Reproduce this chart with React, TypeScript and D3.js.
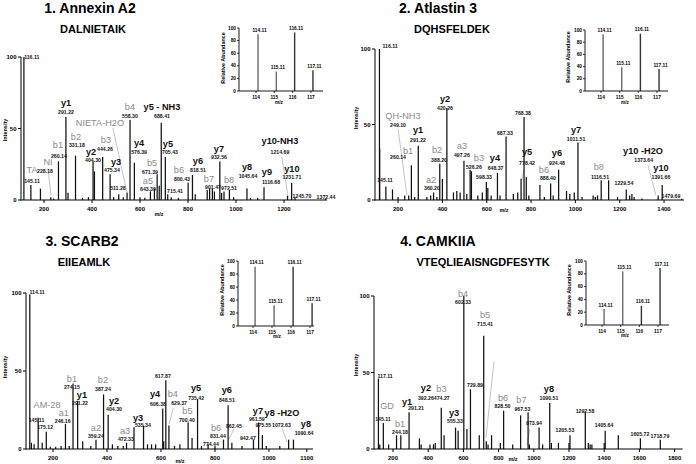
import React from 'react';
import * as d3 from 'd3';

const FONT = '"Liberation Sans", Arial, Helvetica, sans-serif';
const GRAY = '#8a8a8a';

type Kind = 'y' | 'b' | 'm';
type Txt = [string, Kind, number, number];
type Peak = [number, number];
type Leader = [number, number, number, number];

// ---------- shared ----------
const REPORTER_MZ = [114.11, 115.11, 116.11, 117.11];
const REPORTER_LABELS = ['114.11', '115.11', '116.11', '117.11'];
const MAIN_Y_TICKS = [0, 50, 100];
const INSET_Y_TICKS = [0, 20, 40, 60, 80, 100];
const INSET_X_TICKS = [114, 115, 116, 117];

// ---------- panel 1 ----------
const P1_TITLE = '1. Annexin A2';
const P1_PEPTIDE = 'DALNIETAIK';
const P1_X_TICKS = [200, 400, 600, 800, 1000, 1200];
const P1_X_TICK_LABELS = ['200', '400', '600', '800', '1000', '1200'];
const P1_REPORTER = [90, 31, 93, 33];
const P1_PEAKS: Peak[] = [
  [116.11, 100], [145.11, 10.5], [185, 8], [228.18, 2], [240, 1], [260.14, 27], [291.22, 58], [300, 5],
  [331.18, 31], [360, 1.5], [385, 2], [404.3, 27], [410, 20], [444.26, 30], [475.34, 18], [490, 2],
  [511.28, 4], [530, 2], [546, 5], [558.3, 56], [576.39, 26], [600, 2], [620, 1.5], [643.39, 6],
  [660, 8], [671.39, 18], [680, 10], [688.41, 54], [705.43, 30], [715.41, 4], [730, 2], [760, 1.5],
  [800.43, 12], [818.51, 17.5], [830, 4], [880, 7], [890, 8], [901.47, 8], [910, 6], [932.56, 27],
  [940, 5], [950, 6], [972.51, 7], [990, 2], [1045.64, 8], [1060, 1.5], [1090, 1.5], [1116.68, 9],
  [1214.69, 3], [1231.71, 12], [1245.7, 2], [1372.44, 0.8],
];
const P1_TEXTS: Txt[] = [
  ['116.11', 'm', 149, 100],
  ['y1', 'y', 291.5, 67], ['291.22', 'm', 291.5, 61.5],
  ['b4', 'b', 558, 64.3], ['558.30', 'm', 558, 58.7],
  ['NIETA-H2O', 'b', 433, 53],
  ['y5 - NH3', 'y', 691.5, 64.3], ['688.41', 'm', 691.5, 58.7],
  ['b2', 'b', 333, 43.4], ['331.18', 'm', 337, 38.5],
  ['b1', 'b', 258, 37.8], ['260.14', 'm', 262, 30.8],
  ['b3', 'b', 458, 41.3], ['444.26', 'm', 454, 35.7],
  ['y4', 'y', 596, 39.2], ['576.39', 'm', 596, 33.6],
  ['y2', 'y', 396, 32.9], ['404.30', 'm', 404, 28],
  ['y3', 'y', 500, 25.9], ['475.34', 'm', 483, 21],
  ['NI', 'b', 216.5, 25.9],
  ['TA', 'b', 150, 20.3], ['228.18', 'm', 204, 20.3],
  ['145.11', 'm', 150, 13.3],
  ['a5', 'b', 633, 12.6], ['643.39', 'm', 633, 7.7],
  ['b5', 'b', 650, 25.2], ['671.39', 'm', 641.5, 19.6],
  ['511.28', 'm', 508, 8.4],
  ['y5', 'y', 716.5, 38.5], ['705.43', 'm', 725, 33.6],
  ['b6', 'b', 762, 20.3], ['800.43', 'm', 775, 14.7],
  ['y6', 'y', 841.5, 26.6], ['818.51', 'm', 841.5, 21],
  ['715.41', 'm', 746, 6.3],
  ['b7', 'b', 887, 14], ['901.47', 'm', 904, 9.1],
  ['y7', 'y', 929, 35], ['932.56', 'm', 929, 30],
  ['b8', 'b', 971, 13.3], ['972.51', 'm', 971, 8.4],
  ['y8', 'y', 1046, 22.4], ['1045.64', 'm', 1050, 16.8],
  ['y9', 'y', 1129, 18.9], ['1116.68', 'm', 1146, 12.6],
  ['y10-NH3', 'y', 1183, 40.6], ['1214.69', 'm', 1183, 33.6],
  ['y10', 'y', 1233, 21], ['1231.71', 'm', 1233, 16.1],
  ['1245.70', 'm', 1275, 2.8],
  ['1372.44', 'm', 1375, 2.1],
];
const P1_LEADERS: Leader[] = [[487, 50.3, 546, 4.9], [216, 22, 229, 3.5], [1191, 30, 1216, 3.5]];

// ---------- panel 2 ----------
const P2_TITLE = '2. Atlastin 3';
const P2_PEPTIDE = 'DQHSFELDEK';
const P2_X_TICKS = [200, 400, 600, 800, 1000, 1200, 1400];
const P2_X_TICK_LABELS = ['200', '400', '600', '800', '1000', '1200', '1400'];
const P2_REPORTER = [93, 39, 94, 36];
const P2_PEAKS: Peak[] = [
  [116.11, 100], [117.11, 34], [145.11, 9], [175, 7], [200, 2], [230, 3], [248, 3], [260.14, 23],
  [275, 2], [291.22, 36], [330, 2], [347, 3], [360.2, 5], [375, 2], [388.2, 24], [400, 14],
  [420.26, 61], [450, 5], [465, 6], [480, 5], [497.26, 26], [510, 4], [525.26, 20], [531, 19],
  [560, 3], [580, 5], [598.33, 12], [605, 8], [620, 3], [648.37, 18], [660, 3], [687.33, 42],
  [720, 4], [740, 5], [755, 14], [768.38, 55], [778.42, 15], [790, 3], [840, 10], [860, 2],
  [888.4, 11], [900, 3], [924.48, 20], [960, 6], [975, 4], [995, 5], [1011.51, 38], [1030, 2],
  [1080, 3], [1090, 2], [1100, 3], [1116.51, 13], [1150, 13], [1190, 2], [1229.54, 7], [1245, 3],
  [1255, 4], [1265, 2], [1300, 1], [1373.64, 3], [1391.66, 10], [1479.69, 0.8],
];
const P2_TEXTS: Txt[] = [
  ['116.11', 'm', 164, 102],
  ['y2', 'y', 412, 66.2], ['420.26', 'm', 412, 61],
  ['QH-NH3', 'b', 222, 55], ['249.10', 'm', 200, 49.7],
  ['768.38', 'm', 763.6, 57.6],
  ['y1', 'y', 290, 45.7], ['291.22', 'm', 290, 39.7],
  ['b1', 'b', 245, 31.8], ['260.14', 'm', 200, 28.5],
  ['b2', 'b', 376, 32.3], ['388.20', 'm', 385, 26.8],
  ['a3', 'b', 488, 35], ['497.26', 'm', 488, 30.2],
  ['b3', 'b', 565, 27.2], ['526.26', 'm', 542, 21.9],
  ['y4', 'y', 637, 27.2], ['648.37', 'm', 640, 21.2],
  ['598.33', 'm', 588, 15.2],
  ['687.33', 'm', 682, 44.4],
  ['a2', 'b', 348.6, 12.6], ['360.20', 'm', 353, 7.9],
  ['145.11', 'm', 141, 13.2],
  ['y5', 'y', 782, 31], ['778.42', 'm', 782, 24.5],
  ['b6', 'b', 858, 19.2], ['888.40', 'm', 876, 14.6],
  ['y6', 'y', 917, 30.5], ['924.48', 'm', 917, 24.5],
  ['y7', 'y', 1003, 45.7], ['1011.51', 'm', 1003, 40.4],
  ['b8', 'b', 1106, 21.2], ['1116.51', 'm', 1111, 15.2],
  ['1229.54', 'm', 1219, 11.3],
  ['y10 -H2O', 'y', 1305, 31.8], ['1373.64', 'm', 1308, 26.5],
  ['y10', 'y', 1386, 20.5], ['1391.66', 'm', 1386, 15.2],
  ['1479.69', 'm', 1431, 2.6],
];
const P2_LEADERS: Leader[] = [[200, 47, 240, 3.3], [768, 19.9, 759, 13.2], [1327, 23.2, 1363, 3.3]];

// ---------- panel 3 ----------
const P3_TITLE = '3. SCARB2';
const P3_PEPTIDE = 'EIIEAMLK';
const P3_X_TICKS = [200, 400, 600, 800, 1000, 1140];
const P3_X_TICK_LABELS = ['200', '400', '600', '800', '1000', '1100'];
const P3_REPORTER = [91, 32, 91, 35];
const P3_PEAKS: Peak[] = [
  [114.11, 99], [120, 4], [130, 3], [145.11, 20], [160, 4], [175.12, 11], [190, 1.5], [210, 1.5],
  [230, 2], [246.16, 16], [260, 2], [274.15, 42], [291.22, 31], [310, 5], [340, 2], [359.24, 6],
  [387.24, 35], [404.3, 22], [420, 3], [440, 2], [460, 2], [472.33, 4], [500, 14], [535.34, 15],
  [550, 3], [565, 3], [580, 3], [606.38, 26], [610, 5], [617.87, 44], [629.37, 15], [650, 2],
  [670, 3], [700.4, 17], [715, 7], [735.42, 32], [750, 2], [774.44, 3], [800, 2], [831.44, 6],
  [848.51, 28], [862.45, 4], [900, 2], [942.47, 6], [961.59, 17], [975.55, 9], [990, 2], [1040, 2],
  [1072.63, 6], [1090.64, 6],
];
const P3_TEXTS: Txt[] = [
  ['114.11', 'm', 141, 101],
  ['b1', 'b', 270, 44.2], ['274.15', 'm', 270, 39.7],
  ['y1', 'y', 307, 34], ['291.22', 'm', 300, 29.5],
  ['b2', 'b', 385, 43.6], ['387.24', 'm', 385, 38.5],
  ['y2', 'y', 426, 30.1], ['404.30', 'm', 426, 25.6],
  ['AM-28', 'b', 178, 27.5],
  ['a1', 'b', 240, 22.6], ['246.16', 'm', 236, 18],
  ['145.11', 'm', 139, 18.6], ['175.12', 'm', 171, 14.3],
  ['a2', 'b', 359, 12.8], ['359.24', 'm', 359, 8.3],
  ['a3', 'b', 467, 10.9], ['472.33', 'm', 470, 6.4],
  ['y3', 'y', 515, 19.2], ['535.34', 'm', 533, 15.4],
  ['y4', 'y', 578, 34.6], ['606.38', 'm', 589, 28.8],
  ['617.87', 'm', 607, 46.8],
  ['b4', 'b', 644, 35], ['629.37', 'm', 667, 29.6],
  ['y5', 'y', 730, 38.5], ['735.42', 'm', 730, 32.7],
  ['b5', 'b', 698, 23.8], ['700.40', 'm', 696, 18.9],
  ['y6', 'y', 844, 37.2], ['848.51', 'm', 844, 31.4],
  ['b6', 'b', 804, 12.8], ['831.44', 'm', 811, 8.3],
  ['774.44', 'm', 785, 3.2],
  ['862.45', 'm', 870, 14.7],
  ['942.47', 'm', 922, 7],
  ['y7', 'y', 959, 23.7], ['961.59', 'm', 955, 19.2],
  ['975.55', 'm', 979, 15.4],
  ['y8 -H2O', 'y', 1048, 22.4], ['1072.63', 'm', 1046, 15.4],
  ['y8', 'y', 1137, 15.4], ['1090.64', 'm', 1130, 10.3],
];
const P3_LEADERS: Leader[] = [[645, 26, 630, 16], [870, 12.8, 852, 6.4], [1048, 13.5, 1067, 4.5]];

// ---------- panel 4 ----------
const P4_TITLE = '4. CAMKIIA';
const P4_PEPTIDE = 'VTEQLIEAISNGDFESYTK';
const P4_X_TICKS = [200, 400, 600, 800, 1000, 1200, 1400, 1600, 1800];
const P4_X_TICK_LABELS = ['200', '400', '600', '800', '1000', '1200', '1400', '1600', '1800'];
const P4_REPORTER = [25, 84, 30, 89];
const P4_PEAKS: Peak[] = [
  [117.11, 46], [125, 3], [145.11, 17], [175, 3], [220, 9], [244.18, 9], [291.21, 24], [350, 7],
  [360, 3], [410, 3], [430, 3], [440, 4], [474.27, 27], [490, 9], [555.33, 14], [570, 12],
  [602.33, 100], [620, 13], [640, 39], [690, 9], [715.41, 74], [730, 5], [740, 3], [760, 9],
  [810, 4], [828.5, 25], [880, 3], [925, 22], [967.53, 24], [975, 3], [1030, 14], [1050, 3],
  [1090.51, 30], [1100, 4], [1140, 4], [1200, 4], [1205.53, 9], [1292.58, 24], [1310, 4], [1320, 3],
  [1330, 3], [1400, 4], [1405.64, 12], [1480, 9], [1605.72, 7], [1718.79, 6],
];
const P4_TEXTS: Txt[] = [
  ['117.11', 'm', 155, 47.7],
  ['b4', 'b', 598, 100.7], ['602.33', 'm', 598, 96],
  ['b5', 'b', 723, 86.9], ['715.41', 'm', 723, 81.7],
  ['729.89', 'm', 666, 41.8],
  ['GD', 'b', 166, 27.5],
  ['145.11', 'm', 143, 19.6],
  ['b1', 'b', 240, 15.7], ['244.18', 'm', 240, 11.1],
  ['y1', 'y', 280, 30.1], ['291.21', 'm', 331, 26.8],
  ['y2', 'y', 387, 39.2], ['392.26', 'm', 387, 33.3],
  ['b3', 'b', 475, 38.6], ['474.27', 'm', 477, 33.3],
  ['y3', 'y', 547, 22.9], ['555.33', 'm', 552, 18.3],
  ['b6', 'b', 825, 33], ['828.50', 'm', 822, 28.5],
  ['b7', 'b', 930, 31.2], ['967.53', 'm', 935, 26.1],
  ['973.94', 'm', 1001, 17],
  ['y8', 'y', 1086, 38.6], ['1090.51', 'm', 1086, 33.3],
  ['1292.58', 'm', 1291, 24.8],
  ['1205.53', 'm', 1177, 12.4],
  ['1405.64', 'm', 1399, 15.7],
  ['1605.72', 'm', 1603, 9.8],
  ['1718.79', 'm', 1717, 8.5],
];
const P4_LEADERS: Leader[] = [[774, 57.5, 728, 7.2], [978, 13, 961, 2.6]];

// ---------- layout ----------
type Layout = {
  xDomain: [number, number]; xRange: [number, number]; yRange: [number, number];
  titleXY: [number, number]; pepXY: [number, number]; yLabelXY: [number, number]; mzXY: [number, number];
  inset: { xDomain: [number, number]; xRange: [number, number]; yRange: [number, number]; raXY: [number, number]; mzXY: [number, number] };
};

const PANELS = [
  {
    title: P1_TITLE, peptide: P1_PEPTIDE, peaks: P1_PEAKS, texts: P1_TEXTS, leaders: P1_LEADERS,
    reporter: P1_REPORTER, xTicks: P1_X_TICKS, xTickLabels: P1_X_TICK_LABELS,
    layout: {
      xDomain: [104, 1380], xRange: [21, 327.2], yRange: [200, 57], titleXY: [90, 7.5], pepXY: [93, 28.5],
      yLabelXY: [5, 130], mzXY: [159, 214],
      inset: { xDomain: [113.07, 117.66], xRange: [239, 323], yRange: [91, 28], raXY: [223, 58], mzXY: [279, 102] },
    } as Layout,
  },
  {
    title: P2_TITLE, peptide: P2_PEPTIDE, peaks: P2_PEAKS, texts: P2_TEXTS, leaders: P2_LEADERS,
    reporter: P2_REPORTER, xTicks: P2_X_TICKS, xTickLabels: P2_X_TICK_LABELS,
    layout: {
      xDomain: [96, 1490], xRange: [375, 684], yRange: [200, 49], titleXY: [438, 7.5], pepXY: [452, 29],
      yLabelXY: [356, 118], mzXY: [504, 210],
      inset: { xDomain: [113.14, 117.59], xRange: [585, 668], yRange: [91, 30], raXY: [568, 57], mzXY: [625, 102] },
    } as Layout,
  },
  {
    title: P3_TITLE, peptide: P3_PEPTIDE, peaks: P3_PEAKS, texts: P3_TEXTS, leaders: P3_LEADERS,
    reporter: P3_REPORTER, xTicks: P3_X_TICKS, xTickLabels: P3_X_TICK_LABELS,
    layout: {
      xDomain: [100, 1163], xRange: [26, 313], yRange: [449, 293], titleXY: [82, 241], pepXY: [84, 262],
      yLabelXY: [5, 367], mzXY: [180, 461],
      inset: { xDomain: [113.21, 117.21], xRange: [238, 314], yRange: [326, 261], raXY: [222, 290], mzXY: [277, 336] },
    } as Layout,
  },
  {
    title: P4_TITLE, peptide: P4_PEPTIDE, peaks: P4_PEAKS, texts: P4_TEXTS, leaders: P4_LEADERS,
    reporter: P4_REPORTER, xTicks: P4_X_TICKS, xTickLabels: P4_X_TICK_LABELS,
    layout: {
      xDomain: [92, 1846], xRange: [374, 682.7], yRange: [449, 296], titleXY: [438, 241], pepXY: [483, 262],
      yLabelXY: [356, 365], mzXY: [513, 459],
      inset: { xDomain: [113.14, 117.59], xRange: [586, 669], yRange: [325, 261], raXY: [569, 290], mzXY: [625, 335] },
    } as Layout,
  },
];

function textStyle(kind: Kind) {
  if (kind === 'y') return { fill: '#111', fontWeight: 700, fontSize: 9.2, dy: -0.8 };
  if (kind === 'b') return { fill: GRAY, fontWeight: 400, fontSize: 9.2, dy: -0.8 };
  return { fill: '#111', fontWeight: 700, fontSize: 5.2, dy: 0.3 };
}

function Panel({ p }: { p: (typeof PANELS)[number] }) {
  const L = p.layout;
  const x = d3.scaleLinear().domain(L.xDomain).range(L.xRange);
  const y = d3.scaleLinear().domain([0, 100]).range(L.yRange);
  const x0 = L.xRange[0];
  const y0 = y(0);
  const I = L.inset;
  const ix = d3.scaleLinear().domain(I.xDomain).range(I.xRange);
  const iy = d3.scaleLinear().domain([0, 100]).range(I.yRange);
  const ix0 = I.xRange[0];
  const iy0 = iy(0);
  return (
    <g fontFamily={FONT}>
      <text x={L.titleXY[0]} y={L.titleXY[1]} textAnchor="middle" dominantBaseline="central" fontSize={14} fontWeight={700}>{p.title}</text>
      <text x={L.pepXY[0]} y={L.pepXY[1]} textAnchor="middle" dominantBaseline="central" fontSize={11} fontWeight={700}>{p.peptide}</text>

      {p.leaders.map((l, i) => (
        <line key={'l' + i} x1={x(l[0])} y1={y(l[1])} x2={x(l[2])} y2={y(l[3])} stroke="#9a9a9a" strokeWidth={0.6} />
      ))}
      {p.peaks.map((pk, i) => (
        <line key={'p' + i} x1={x(pk[0])} x2={x(pk[0])} y1={y0} y2={y(pk[1])} stroke="#111" strokeWidth={1.25} />
      ))}
      <line x1={x0} x2={L.xRange[1]} y1={y0} y2={y0} stroke="#000" strokeWidth={1} />
      <line x1={x0} x2={x0} y1={y0 + 0.5} y2={y(100)} stroke="#000" strokeWidth={1} />
      {MAIN_Y_TICKS.map((t) => (
        <g key={'yt' + t}>
          <line x1={x0 - 3} x2={x0} y1={y(t)} y2={y(t)} stroke="#000" strokeWidth={1} />
          <text x={x0 - 4.5} y={y(t)} textAnchor="end" dominantBaseline="central" fontSize={6} fontWeight={700}>{t}</text>
        </g>
      ))}
      {p.xTicks.map((t, i) => (
        <g key={'xt' + t}>
          <line x1={x(t)} x2={x(t)} y1={y0} y2={y0 + 3} stroke="#000" strokeWidth={1} />
          <text x={x(t)} y={y0 + 8.5} textAnchor="middle" dominantBaseline="central" fontSize={6} fontWeight={700}>{p.xTickLabels[i]}</text>
        </g>
      ))}
      <text transform={`translate(${L.yLabelXY[0]},${L.yLabelXY[1]}) rotate(-90)`} textAnchor="middle" dominantBaseline="central" fontSize={5.5} fontWeight={700}>Intensity</text>
      <text x={L.mzXY[0]} y={L.mzXY[1]} textAnchor="middle" dominantBaseline="central" fontSize={5.5} fontWeight={700}>m/z</text>

      {p.texts.map((t, i) => {
        const s = textStyle(t[1]);
        return (
          <text key={'t' + i} x={x(t[2])} y={y(t[3]) + s.dy} textAnchor="middle" dominantBaseline="central"
            fill={s.fill} fontWeight={s.fontWeight} fontSize={s.fontSize}>{t[0]}</text>
        );
      })}

      {REPORTER_MZ.map((mz, i) => (
        <g key={'r' + i}>
          <line x1={ix(mz)} x2={ix(mz)} y1={iy0} y2={iy(p.reporter[i])} stroke={i < 2 ? '#6a6a6a' : '#333'} strokeWidth={1.4} />
          <text x={ix(mz) + 1.5} y={iy(p.reporter[i]) - 4} textAnchor="middle" dominantBaseline="central" fontSize={4.8} fontWeight={700}>{REPORTER_LABELS[i]}</text>
        </g>
      ))}
      <line x1={ix0} x2={I.xRange[1]} y1={iy0} y2={iy0} stroke="#000" strokeWidth={0.9} />
      <line x1={ix0} x2={ix0} y1={iy0} y2={iy(100)} stroke="#000" strokeWidth={0.9} />
      {INSET_Y_TICKS.map((t) => (
        <g key={'iy' + t}>
          <line x1={ix0 - 2} x2={ix0} y1={iy(t)} y2={iy(t)} stroke="#000" strokeWidth={0.8} />
          <text x={ix0 - 3} y={iy(t)} textAnchor="end" dominantBaseline="central" fontSize={4.8} fontWeight={700}>{t}</text>
        </g>
      ))}
      {INSET_X_TICKS.map((t) => (
        <g key={'ix' + t}>
          <line x1={ix(t)} x2={ix(t)} y1={iy0} y2={iy0 + 2} stroke="#000" strokeWidth={0.8} />
          <text x={ix(t)} y={iy0 + 6} textAnchor="middle" dominantBaseline="central" fontSize={4.8} fontWeight={700}>{t}</text>
        </g>
      ))}
      <text transform={`translate(${I.raXY[0]},${I.raXY[1]}) rotate(-90)`} textAnchor="middle" dominantBaseline="central" fontSize={5.4} fontWeight={700}>Relative Abundance</text>
      <text x={I.mzXY[0]} y={I.mzXY[1]} textAnchor="middle" dominantBaseline="central" fontSize={4.8} fontWeight={700}>m/z</text>
    </g>
  );
}

export default function App() {
  return (
    <svg width={696} height={464} viewBox="0 0 696 464" style={{ position: 'absolute', left: 0, top: 0, background: '#fff' }}>
      <rect x={0} y={0} width={696} height={464} fill="#fff" />
      {PANELS.map((p, i) => <Panel key={i} p={p} />)}
    </svg>
  );
}
